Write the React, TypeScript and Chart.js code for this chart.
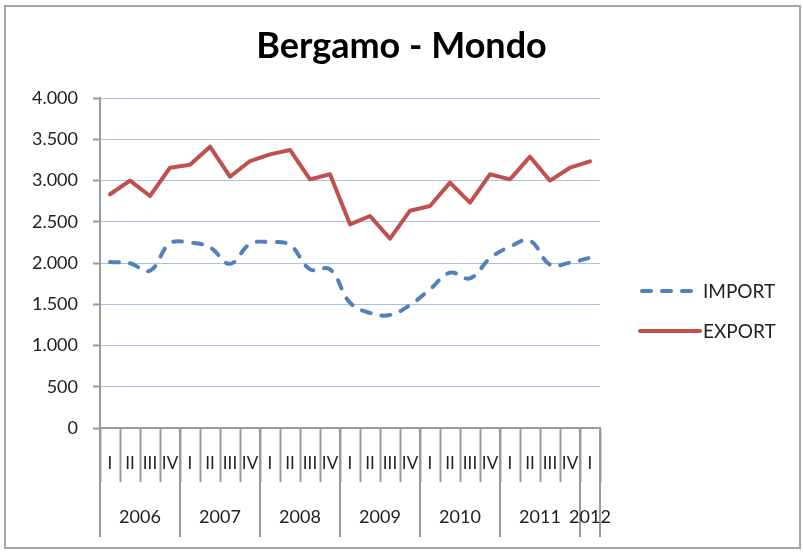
import React, { useEffect, useRef } from 'react';
import { Chart, registerables } from 'chart.js';

Chart.register(...registerables);

const quarterLabels = [
  'I', 'II', 'III', 'IV',
  'I', 'II', 'III', 'IV',
  'I', 'II', 'III', 'IV',
  'I', 'II', 'III', 'IV',
  'I', 'II', 'III', 'IV',
  'I', 'II', 'III', 'IV',
  'I',
];
const years = ['2006', '2007', '2008', '2009', '2010', '2011', '2012'];
const importValues = [
  2012, 1996, 1907, 2238, 2246, 2190, 1990, 2230, 2254, 2218, 1923, 1923,
  1519, 1395, 1370, 1491, 1681, 1883, 1814, 2057, 2198, 2270, 1980, 2004, 2064,
];
const exportValues = [
  2833, 2998, 2812, 3155, 3192, 3410, 3046, 3236, 3317, 3370, 3014, 3075,
  2469, 2570, 2295, 2634, 2691, 2974, 2731, 3075, 3014, 3289, 2998, 3155, 3232,
];
const seriesNames = ['IMPORT', 'EXPORT'];
const titleText = 'Bergamo - Mondo';
const yMin = 0;
const yMax = 4000;
const yStep = 500;

const FONT = 'Lato, "Open Sans", sans-serif';
const AXIS = '#9a9a9a';
const GRID = '#a9c1e6';
const TEXT = '#222222';
const BLUE = '#4f81bd';
const RED = '#c0504d';

function fmt(v: number): string {
  return String(Math.round(v)).replace(/\B(?=(\d{3})+(?!\d))/g, '.');
}

export default function App() {
  const ref = useRef<HTMLCanvasElement>(null);

  useEffect(() => {
    const canvas = ref.current;
    if (!canvas) return;

    const titlePlugin = {
      id: 'centerTitle',
      afterDraw(chart: any) {
        const ctx = chart.ctx as CanvasRenderingContext2D;
        ctx.save();
        ctx.fillStyle = '#000';
        ctx.font = `bold 36px ${FONT}`;
        ctx.textAlign = 'center';
        ctx.textBaseline = 'alphabetic';
        ctx.fillText(titleText, chart.width / 2, 58);
        ctx.restore();
      },
    };

    const yearAxisPlugin = {
      id: 'yearAxis',
      afterDraw(chart: any) {
        const xs = chart.scales.x;
        const ctx = chart.ctx as CanvasRenderingContext2D;
        const top = xs.top;
        const bottom = top + 109;
        ctx.save();
        ctx.strokeStyle = AXIS;
        ctx.lineWidth = 2;
        const n = quarterLabels.length;
        const bounds: number[] = [];
        years.forEach((_, i) => bounds.push(i * 4));
        bounds.push(n);
        bounds.forEach((b) => {
          const px = Math.round(xs.getPixelForValue(b - 0.5));
          ctx.beginPath();
          ctx.moveTo(px, top);
          ctx.lineTo(px, bottom);
          ctx.stroke();
        });
        ctx.fillStyle = TEXT;
        ctx.font = `18px ${FONT}`;
        ctx.textAlign = 'center';
        ctx.textBaseline = 'middle';
        years.forEach((yr, i) => {
          const s = i * 4;
          const e = Math.min(s + 4, n);
          const cx = (xs.getPixelForValue(s - 0.5) + xs.getPixelForValue(e - 0.5)) / 2;
          ctx.fillText(yr, cx, top + 89);
        });
        ctx.restore();
      },
    };

    const legendPlugin = {
      id: 'sideLegend',
      afterDraw(chart: any) {
        const ctx = chart.ctx as CanvasRenderingContext2D;
        const area = chart.chartArea;
        const x0 = area.right + 40;
        const rows = [291, 331];
        ctx.save();
        chart.data.datasets.forEach((ds: any, i: number) => {
          const y = rows[i];
          ctx.strokeStyle = ds.borderColor;
          ctx.lineWidth = ds.borderWidth;
          ctx.lineCap = ds.borderCapStyle || 'butt';
          ctx.setLineDash(ds.borderDash || []);
          ctx.beginPath();
          ctx.moveTo(x0 + (ds.borderDash ? 2 : 0), y);
          ctx.lineTo(x0 + (ds.borderDash ? 54 : 60), y);
          ctx.stroke();
          ctx.setLineDash([]);
          ctx.fillStyle = TEXT;
          ctx.font = `19px ${FONT}`;
          ctx.textAlign = 'left';
          ctx.textBaseline = 'middle';
          ctx.fillText(ds.label, x0 + 63, y + 1);
        });
        ctx.restore();
      },
    };

    const chart = new Chart(canvas, {
      type: 'line',
      data: {
        labels: quarterLabels,
        datasets: [
          {
            label: seriesNames[0],
            data: importValues,
            borderColor: BLUE,
            backgroundColor: BLUE,
            borderWidth: 4,
            borderDash: [9, 11],
            borderCapStyle: 'round',
            tension: 0.4,
            pointRadius: 0,
            fill: false,
          },
          {
            label: seriesNames[1],
            data: exportValues,
            borderColor: RED,
            backgroundColor: RED,
            borderWidth: 4,
            borderJoinStyle: 'round',
            borderCapStyle: 'round',
            tension: 0,
            pointRadius: 0,
            fill: false,
          },
        ],
      },
      options: {
        responsive: false,
        animation: false,
        layout: { padding: { left: 0, right: 203, top: 98, bottom: 0 } },
        plugins: {
          legend: { display: false },
          tooltip: { enabled: false },
          title: { display: false },
        },
        scales: {
          x: {
            type: 'category',
            offset: true,
            border: { display: true, color: AXIS, width: 2 },
            grid: {
              offset: true,
              drawOnChartArea: false,
              drawTicks: true,
              tickLength: 54,
              tickColor: AXIS,
              tickWidth: 2,
            },
            ticks: {
              autoSkip: false,
              maxRotation: 0,
              minRotation: 0,
              color: TEXT,
              padding: -29,
              font: { family: FONT, size: 17 },
            },
            afterFit(scale: any) {
              scale.height = 124;
            },
          },
          y: {
            min: yMin,
            max: yMax,
            border: { display: true, color: AXIS, width: 2 },
            grid: {
              color: GRID,
              lineWidth: 1,
              drawTicks: true,
              tickLength: 7,
              tickColor: AXIS,
              tickWidth: 2,
            },
            ticks: {
              stepSize: yStep,
              color: TEXT,
              padding: 15,
              font: { family: FONT, size: 18 },
              callback: (v: any) => fmt(Number(v)),
            },
            afterFit(scale: any) {
              scale.width = 100;
            },
          },
        },
      },
      plugins: [titlePlugin, yearAxisPlugin, legendPlugin],
    } as any);

    return () => chart.destroy();
  }, []);

  return (
    <div style={{ position: 'absolute', left: 0, top: 0, width: 803, height: 552, background: '#fff' }}>
      <canvas ref={ref} width={803} height={552} style={{ position: 'absolute', left: 0, top: 0 }} />
      <div
        style={{
          position: 'absolute',
          left: 4,
          top: 5,
          width: 797,
          height: 544,
          boxSizing: 'border-box',
          border: '2px solid #a5a5a5',
          pointerEvents: 'none',
        }}
      />
    </div>
  );
}
